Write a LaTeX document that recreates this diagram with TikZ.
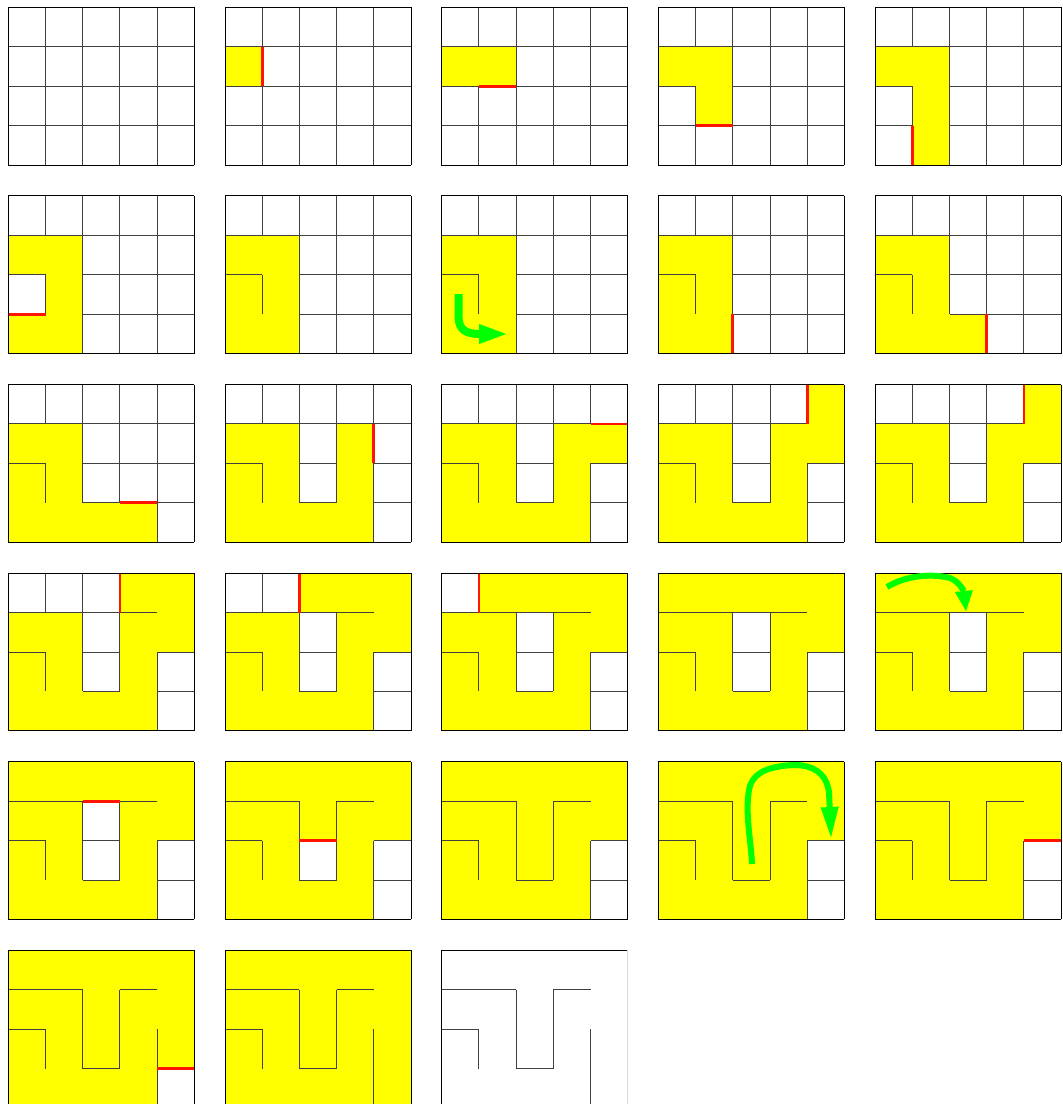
\documentclass[tikz,border=0pt]{standalone}
\usetikzlibrary{arrows.meta}
\definecolor{mzyellow}{RGB}{255,255,0}
\definecolor{mzgreen}{RGB}{0,255,0}
\definecolor{mzred}{RGB}{255,20,0}
\tikzset{
  wall/.style={draw=black!75, line width=0.9pt},
  redwall/.style={draw=mzred, line width=2.8pt},
  frame/.style={draw=black, line width=1pt},
  lightframe/.style={draw=black!15, line width=1pt},
  visited/.style={fill=mzyellow},
  backtrack/.style={draw=mzgreen, line width=#1},
}
% #1 col, #2 row, #3 visited cells, #4 removed walls, #5 red wall index, #6 right edge style
\newcommand\mazepanel[6]{%
\begin{scope}[shift={({8.3+216.7*#1},{7.3+188.6*#2})}, x=37.2pt, y=-39.43pt]
  \foreach \cx/\cy [count=\i] in {0/1,1/1,1/2,1/3,0/3,0/2,2/3,3/3,3/2,3/1,4/1,4/0,3/0,2/0,1/0,0/0,2/1,2/2,4/2,4/3}{
    \ifnum\i>#3\relax\else\fill[visited] (\cx,\cy) rectangle ++(1,1);\fi
  }
  \foreach \xa/\ya/\xb/\yb/\k in {1/0/1/1/15,1/1/1/2/1,1/2/1/3/99,1/3/1/4/4,
      2/0/2/1/14,2/1/2/2/99,2/2/2/3/99,2/3/2/4/6,
      3/0/3/1/13,3/1/3/2/99,3/2/3/3/99,3/3/3/4/7,
      4/0/4/1/12,4/1/4/2/10,4/2/4/3/99,4/3/4/4/99,
      0/1/1/1/99,1/1/2/1/99,2/1/3/1/16,3/1/4/1/99,4/1/5/1/11,
      0/2/1/2/99,1/2/2/2/2,2/2/3/2/17,3/2/4/2/9,4/2/5/2/18,
      0/3/1/3/5,1/3/2/3/3,2/3/3/3/99,3/3/4/3/8,4/3/5/3/19}{
    \ifnum\k>#4\relax\draw[wall] (\xa,\ya) -- (\xb,\yb);\fi
  }
  \foreach \xa/\ya/\xb/\yb/\k in {1/0/1/1/15,1/1/1/2/1,1/3/1/4/4,
      2/0/2/1/14,2/3/2/4/6,3/0/3/1/13,3/3/3/4/7,4/0/4/1/12,4/1/4/2/10,
      2/1/3/1/16,4/1/5/1/11,1/2/2/2/2,2/2/3/2/17,3/2/4/2/9,4/2/5/2/18,
      0/3/1/3/5,1/3/2/3/3,3/3/4/3/8,4/3/5/3/19}{
    \ifnum\k=#5\relax\draw[redwall] (\xa,\ya) -- (\xb,\yb);\fi
  }
  \draw[frame] (5,4) -- (0,4) -- (0,0) -- (5,0);
  \draw[#6] (5,0) -- (5,4);
\end{scope}}
\begin{document}
\begin{tikzpicture}[x=1pt, y=-1pt]
\useasboundingbox (0,0) rectangle (1063,1104);
\clip (0,0) rectangle (1063,1104);
\fill[white] (0,0) rectangle (1063,1104);
\mazepanel{0}{0}{0}{0}{0}{frame}
\mazepanel{1}{0}{1}{0}{1}{frame}
\mazepanel{2}{0}{2}{1}{2}{frame}
\mazepanel{3}{0}{3}{2}{3}{frame}
\mazepanel{4}{0}{4}{3}{4}{frame}
\mazepanel{0}{1}{5}{4}{5}{frame}
\mazepanel{1}{1}{6}{5}{0}{frame}
\mazepanel{2}{1}{6}{5}{0}{frame}
\mazepanel{3}{1}{6}{5}{6}{frame}
\mazepanel{4}{1}{7}{6}{7}{frame}
\mazepanel{0}{2}{8}{7}{8}{frame}
\mazepanel{1}{2}{10}{9}{10}{frame}
\mazepanel{2}{2}{11}{10}{11}{frame}
\mazepanel{3}{2}{12}{11}{12}{frame}
\mazepanel{4}{2}{12}{11}{12}{frame}
\mazepanel{0}{3}{13}{12}{13}{frame}
\mazepanel{1}{3}{14}{13}{14}{frame}
\mazepanel{2}{3}{15}{14}{15}{frame}
\mazepanel{3}{3}{16}{15}{0}{frame}
\mazepanel{4}{3}{16}{15}{0}{frame}
\mazepanel{0}{4}{16}{15}{16}{frame}
\mazepanel{1}{4}{17}{16}{17}{frame}
\mazepanel{2}{4}{18}{17}{0}{frame}
\mazepanel{3}{4}{18}{17}{0}{frame}
\mazepanel{4}{4}{18}{17}{18}{frame}
\mazepanel{0}{5}{19}{18}{19}{frame}
\mazepanel{1}{5}{20}{19}{0}{frame}
\mazepanel{2}{5}{0}{19}{0}{lightframe}
% backtracking arrows
\draw[backtrack=8pt, -{Triangle[length=27pt,width=20pt,line width=0.1pt]}]
  (458.5,294) -- (458.5,316) .. controls (458.5,330) and (466,334) .. (480,334) -- (506,334);
\draw[backtrack=6pt, -{Triangle[length=20pt,width=18pt,line width=0.1pt]}]
  (887,587) .. controls (905,576) and (930,573) .. (950,578)
  .. controls (960,582) and (964,592) .. (966,611);
\draw[backtrack=6pt, -{Triangle[length=30pt,width=18pt,line width=0.1pt]}]
  (752,864) .. controls (751,840) and (745,815) .. (749,790)
  .. controls (752,772) and (770,766) .. (794,765)
  .. controls (812,765) and (826,772) .. (829,792) -- (831,837);
\end{tikzpicture}
\end{document}
